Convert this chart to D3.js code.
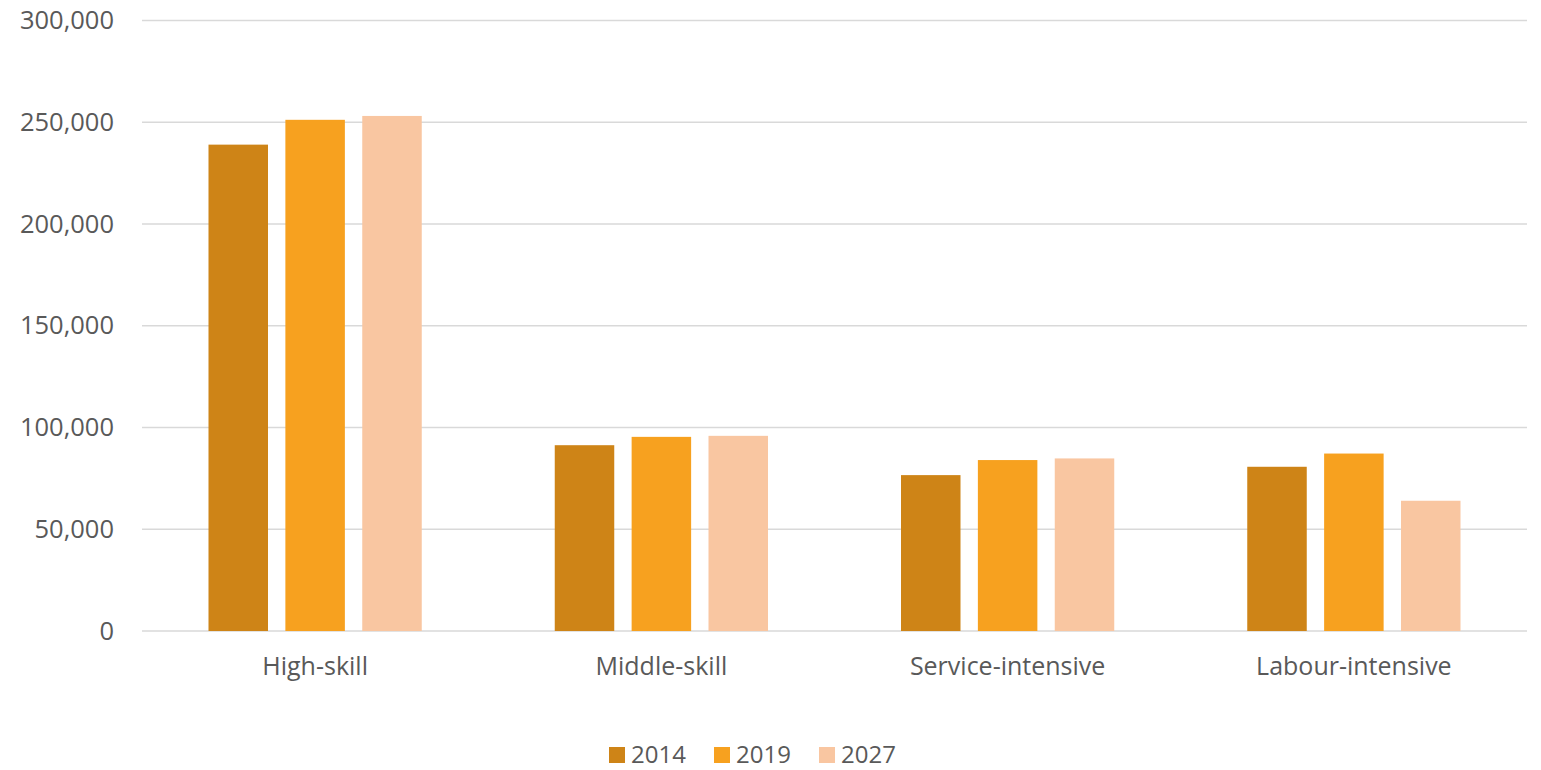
<!DOCTYPE html>
<html>
<head>
<meta charset="utf-8">
<script src="https://cdn.jsdelivr.net/npm/d3@7"></script>
<style>
  body { margin: 0; background: #fff; overflow: hidden; }
  text { font-family: "Open Sans", sans-serif; fill: #595959; }
</style>
</head>
<body>
<div id="chart"></div>
<script>
// data
const categories = ["High-skill", "Middle-skill", "Service-intensive", "Labour-intensive"];
const years = ["2014", "2019", "2027"];
const values2014 = [239000, 91300, 76600, 80700];
const values2019 = [251200, 95400, 84000, 87200];
const values2027 = [253100, 95900, 84800, 64000];
const yTicks = [0, 50000, 100000, 150000, 200000, 250000, 300000];
const colours = ["#CE8417", "#F7A11F", "#F9C6A1"];

const series = [values2014, values2019, values2027];

const width = 1541, height = 770;
const margin = {top: 20.5, right: 14, bottom: 139, left: 142};

const svg = d3.select("#chart")
    .append("svg")
    .attr("width", width)
    .attr("height", height);

const x0 = d3.scaleBand()
    .domain(categories)
    .range([margin.left, width - margin.right])
    .paddingInner(0)
    .paddingOuter(0);

const groupPad = 66.5;
const x1 = d3.scaleBand()
    .domain(years)
    .range([groupPad, x0.bandwidth() - groupPad])
    .paddingInner(0.226)
    .paddingOuter(0);

const y = d3.scaleLinear()
    .domain([0, 300000])
    .range([height - margin.bottom, margin.top]);

// gridlines
svg.append("g")
    .selectAll("line")
    .data(yTicks)
    .enter()
    .append("line")
    .attr("x1", margin.left)
    .attr("x2", width - margin.right)
    .attr("y1", d => y(d))
    .attr("y2", d => y(d))
    .attr("stroke", "#d9d9d9")
    .attr("stroke-width", 1.5);

// y axis labels
const yAxis = d3.axisLeft(y)
    .tickValues(yTicks)
    .tickSize(0)
    .tickPadding(28)
    .tickFormat(d3.format(","));
const gy = svg.append("g")
    .attr("transform", "translate(" + margin.left + ",0)")
    .call(yAxis);
gy.select(".domain").remove();
gy.selectAll("text")
    .style("font-size", "25.5px")
    .attr("fill", "#595959");

// bars
const groups = svg.append("g")
    .selectAll("g")
    .data(categories)
    .enter()
    .append("g")
    .attr("transform", d => "translate(" + x0(d) + ",0)");

groups.selectAll("rect")
    .data((d, i) => years.map((yr, j) => ({year: yr, value: series[j][i], j: j})))
    .enter()
    .append("rect")
    .attr("x", d => x1(d.year))
    .attr("width", x1.bandwidth())
    .attr("y", d => y(d.value))
    .attr("height", d => y(0) - y(d.value))
    .attr("fill", d => colours[d.j]);

// x axis labels
const xAxis = d3.axisBottom(x0)
    .tickSize(0)
    .tickPadding(26);
const gx = svg.append("g")
    .attr("transform", "translate(0," + y(0) + ")")
    .call(xAxis);
gx.select(".domain").remove();
gx.selectAll("text")
    .style("font-size", "25px")
    .attr("fill", "#595959");

// legend
const legend = svg.append("g")
    .attr("transform", "translate(609,747)");
const items = legend.selectAll("g")
    .data(years)
    .enter()
    .append("g")
    .attr("transform", (d, i) => "translate(" + (i * 105) + ",0)");
items.append("rect")
    .attr("width", 16)
    .attr("height", 16)
    .attr("fill", (d, i) => colours[i]);
items.append("text")
    .attr("x", 22)
    .attr("y", 16)
    .style("font-size", "24px")
    .text(d => d);
</script>
</body>
</html>
